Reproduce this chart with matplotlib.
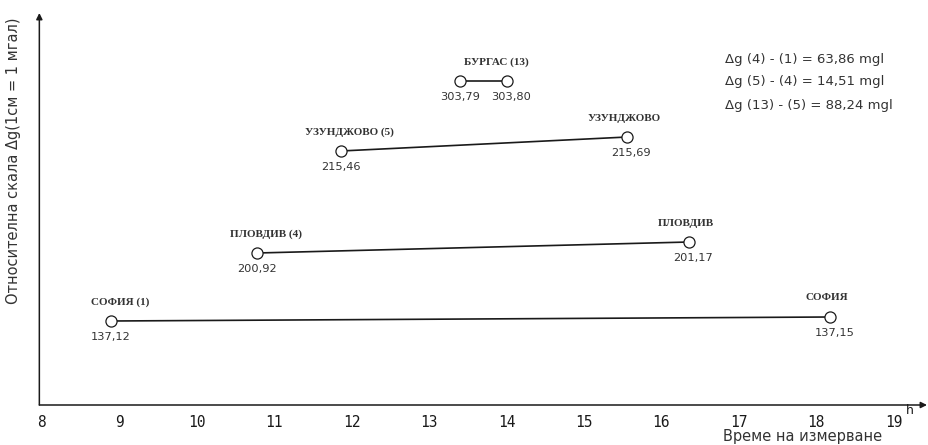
import matplotlib
matplotlib.use("Agg")
import matplotlib.pyplot as plt

# ---- data ----
labels_start = ["СОФИЯ (1)", "ПЛОВДИВ (4)", "УЗУНДЖОВО (5)", "БУРГАС (13)"]
labels_end = ["СОФИЯ", "ПЛОВДИВ", "УЗУНДЖОВО", ""]
time_start = [8.89, 10.78, 11.86, 13.40]
time_end = [18.18, 16.36, 15.56, 14.01]
level_start = [84, 152, 254, 324]   # schematic plotting level (relative scale)
level_end = [88, 163, 268, 324]
g_start = [137.12, 200.92, 215.46, 303.79]
g_end = [137.15, 201.17, 215.69, 303.80]
delta_pairs = ["(4) - (1)", "(5) - (4)", "(13) - (5)"]
delta_values = [63.86, 14.51, 88.24]
xticks = list(range(8, 20))

def fmt(v):
    return f"{v:.2f}".replace(".", ",")

W, H = 929, 445
fig = plt.figure(figsize=(W / 100, H / 100), dpi=100)
left_px, right_px, bottom_px, top_px = 42, 927, 405, 13
ax = fig.add_axes([left_px / W, (H - bottom_px) / H,
                   (right_px - left_px) / W, (bottom_px - top_px) / H])
ax.set_xlim(8, 19.43)
ax.set_ylim(0, 392)
for s in ax.spines.values():
    s.set_visible(False)

ink = "#1a1a1a"
# axes with arrows
ax.annotate("", xy=(1.0, 0), xytext=(-0.003, 0), xycoords="axes fraction",
            arrowprops=dict(arrowstyle="-|>", lw=1.1, color=ink,
                            mutation_scale=9, shrinkA=0, shrinkB=0))
ax.annotate("", xy=(-0.003, 1.0), xytext=(-0.003, 0), xycoords="axes fraction",
            arrowprops=dict(arrowstyle="-|>", lw=1.1, color=ink,
                            mutation_scale=9, shrinkA=0, shrinkB=0))

ax.set_xticks(xticks)
ax.set_xticklabels([str(t) for t in xticks], fontsize=10.5, color=ink,
                   family="DejaVu Sans Mono")
ax.tick_params(axis="x", length=0, pad=7)
ax.set_yticks([])
fig.text(906 / W, 1 - 410 / H, "h", fontsize=9, color=ink,
         va="center", ha="left", family="DejaVu Sans")

lab_font = dict(family="Liberation Serif", fontsize=8, fontweight="bold",
                color="#333333")
val_font = dict(family="DejaVu Sans", fontsize=8.2, color="#333333")

for i in range(len(time_start)):
    ax.plot([time_start[i], time_end[i]], [level_start[i], level_end[i]],
            color=ink, lw=1.2, zorder=2)
    ax.plot([time_start[i], time_end[i]], [level_start[i], level_end[i]],
            ls="none", marker="o", ms=8, mfc="white", mec=ink, mew=0.9,
            zorder=3)
    # values below points
    ax.annotate(fmt(g_start[i]), (time_start[i], level_start[i]),
                textcoords="offset pixels", xytext=(0, -16),
                ha="center", va="center", **val_font)
    ax.annotate(fmt(g_end[i]), (time_end[i], level_end[i]),
                textcoords="offset pixels", xytext=(4, -16),
                ha="center", va="center", **val_font)
    # station names above
    if labels_end[i]:
        ax.annotate(labels_start[i], (time_start[i], level_start[i]),
                    textcoords="offset pixels", xytext=(9, 19),
                    ha="center", va="center", **lab_font)
        ax.annotate(labels_end[i], (time_end[i], level_end[i]),
                    textcoords="offset pixels", xytext=(-3, 19),
                    ha="center", va="center", **lab_font)
    else:
        mid = (time_start[i] + time_end[i]) / 2
        ax.annotate(labels_start[i], (mid, level_start[i]),
                    textcoords="offset pixels", xytext=(13, 19),
                    ha="center", va="center", **lab_font)

# delta text block
for k, (pair, dv) in enumerate(zip(delta_pairs, delta_values)):
    fig.text(725 / W, 1 - (59 + 23 * k) / H,
             f"Δg {pair} = {fmt(dv)} mgl", fontsize=9.5, color="#333333",
             ha="left", va="center", family="DejaVu Sans")

# axis titles
fig.text(14 / W, 1 - 161 / H, "Относителна скала Δg(1см = 1 мгал)",
         rotation=90, fontsize=10.5, color="#333333", ha="center", va="center",
         family="DejaVu Sans")
fig.text(882 / W, 1 - 437 / H, "Време на измерване", fontsize=10.5,
         color="#333333", ha="right", va="center", family="DejaVu Sans")

fig.savefig("out.png", dpi=100, facecolor="white")
